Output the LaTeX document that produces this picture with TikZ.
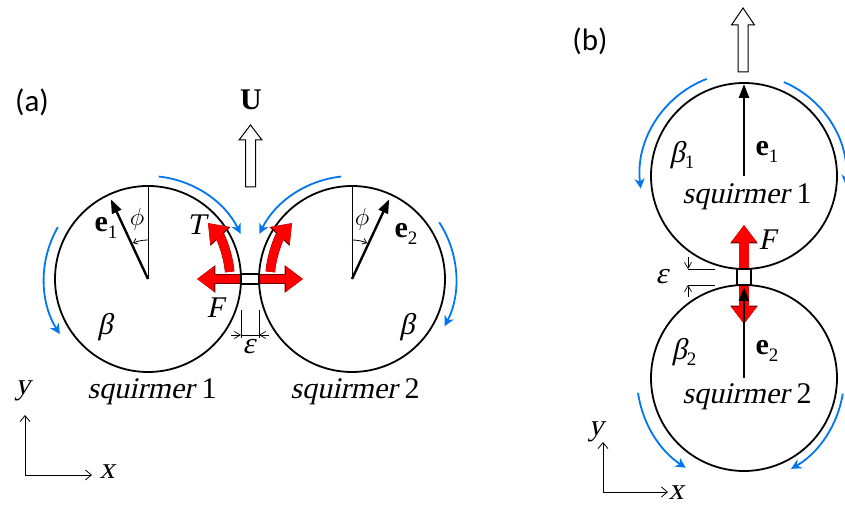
\documentclass[tikz,border=0pt]{standalone}
\usepackage{fontspec}
\setmainfont{Liberation Serif}
\newfontfamily\figfont{Liberation Serif}
\newfontfamily\figit{Liberation Serif}[FakeSlant=0.22]
\newfontfamily\panelfont{Carlito}
\usetikzlibrary{arrows.meta,calc}
\definecolor{flowblue}{RGB}{0,118,240}

% bold unit vector with an upright subscript
\newcommand{\uvec}[1]{\textbf{e}\raisebox{-0.22em}{\figfont\fontsize{19}{19}\selectfont #1}}
\newcommand{\slip}[1]{{\figit β}\raisebox{-0.22em}{\figfont\fontsize{19}{19}\selectfont #1}}

\begin{document}
\begin{tikzpicture}[x=1pt,y=1pt,
  body/.style={line width=1.8pt},
  guide/.style={line width=0.8pt},
  flow/.style={flowblue,line width=1.8pt,-{Stealth[length=10pt,width=10pt,inset=3pt]}},
  force/.style={red,line width=8pt,-{Triangle[length=17pt,width=24pt]}},
  rim/.style={preaction={draw=red!45!black,line width=9.6pt,-{Triangle[length=18.4pt,width=26.4pt]}}},
  orient/.style={line width=2.4pt,-{Triangle[length=14pt,width=10pt]}},
  hollow/.style={line width=1pt,fill=white},
  gapbox/.style={line width=2.2pt,fill=white},
  dim/.style={line width=0.7pt},
  dimtip/.style={line width=0.7pt,-{Straight Barb[length=6pt,width=7pt]}},
  lab/.style={font=\figfont\fontsize{30}{32}\selectfont,inner sep=1pt},
  itlab/.style={font=\figit\fontsize{30}{32}\selectfont,inner sep=1pt}]

  \useasboundingbox (0,0) rectangle (845,526);

  % ---------------- (a) side by side ----------------
  \coordinate (C1) at (148,247);
  \coordinate (C2) at (352,247);

  \node[font=\panelfont\fontsize{31}{36}\selectfont] (pa) at (32,424) {(a)};

  % Squirmers
  \draw[body] (C1) circle (93);
  \draw[body] (C2) circle (93);

  % Reference lines and orientation angle
  \draw[guide] (C1) -- ++(0,93);
  \draw[guide] (C2) -- ++(0,93);
  \draw[guide,-{Straight Barb[length=4pt,width=6pt]}] ($(C1)+(90:39)$) arc[start angle=90,end angle=113,radius=39];
  \draw[guide,-{Straight Barb[length=4pt,width=6pt]}] ($(C2)+(90:39)$) arc[start angle=90,end angle=67,radius=39];

  % Orientation vectors
  \draw[orient] (C1) -- ++(115:88);
  \draw[orient] (C2) -- ++(65:88);

  % Surface flow
  \draw[flow] ($(C1)+(150:104)$) arc[start angle=150,end angle=212,radius=104];
  \draw[flow] ($(C1)+(84:103)$) arc[start angle=84,end angle=26,radius=103];
  \draw[flow] ($(C2)+(96:103)$) arc[start angle=96,end angle=154,radius=103];
  \draw[flow] ($(C2)+(33:104)$) arc[start angle=33,end angle=-27,radius=104];

  % Contact forces and torques
  \draw[force,rim] (242,247) -- (197,247);
  \draw[force,rim] (258,247) -- (303,247);
  \draw[force,rim,line width=9pt] ($(C1)+(5:82)$) arc[start angle=5,end angle=43,radius=82];
  \draw[force,rim,line width=9pt] ($(C2)+(175:82)$) arc[start angle=175,end angle=137,radius=82];
  \draw[gapbox] (241,242) rectangle (259,252);

  % Gap width
  \draw[dim] (241,216) -- (241,188);
  \draw[dim] (259,216) -- (259,188);
  \draw[dim] (241,191) -- (259,191);
  \draw[dimtip] (231,191) -- (241,191);
  \draw[dimtip] (269,191) -- (259,191);

  % Swimming velocity
  \draw[hollow] (245.5,339) -- ++(0,47) -- ++(-6.5,0) -- ++(11.5,15)
    -- ++(11.5,-15) -- ++(-6.5,0) -- ++(0,-47) -- cycle;

  % Labels
  \node[lab,font=\figfont\fontsize{30}{32}\selectfont\bfseries] (Ua) at (251,426) {U};
  \node[lab] (e1a) at (106,298) {\uvec{1}};
  \node[lab] (e2a) at (406,292) {\uvec{2}};
  \node[lab,font=\fontsize{35}{36}\selectfont] (phia) at (137,307) {$\phi$};
  \node[lab,font=\fontsize{35}{36}\selectfont] (phib) at (362,307) {$\phi$};
  \node[itlab] (Ta) at (196,301) {T};
  \node[itlab] (Fa) at (215,218) {F};
  \node[itlab] (epsa) at (249,179) {ε};
  \node[itlab] (ba) at (105,199) {β};
  \node[itlab] (bb) at (407,199) {β};
  \node[itlab] (sq1a) at (152,134) {squirmer\ {\figfont 1}};
  \node[itlab] (sq2a) at (355,134) {squirmer\ {\figfont 2}};

  % Axes
  \coordinate (Oa) at (25,51);
  \draw[guide,-{Straight Barb[length=6pt,width=10pt]}] (Oa) -- ++(0,60);
  \draw[guide,-{Straight Barb[length=6pt,width=10pt]}] (Oa) -- ++(67,0);
  \node[itlab] (ya) at (23,135) {y};
  \node[itlab] (xa) at (107,54) {x};

  % ---------------- (b) one above the other ----------------
  \coordinate (C3) at (744,350);
  \coordinate (C4) at (744,148);

  \node[font=\panelfont\fontsize{31}{36}\selectfont] (pb) at (590,485) {(b)};

  % Squirmers
  \draw[body] (C3) circle (93);
  \draw[body] (C4) circle (93);

  % Surface flow
  \draw[flow] ($(C3)+(111:104)$) arc[start angle=111,end angle=187,radius=104];
  \draw[flow] ($(C3)+(67:102)$) arc[start angle=67,end angle=-5,radius=102];
  \draw[flow] ($(C4)+(188:107)$) arc[start angle=188,end angle=237,radius=107];
  \draw[flow] ($(C4)+(-9:100)$) arc[start angle=-9,end angle=-60,radius=106];

  % Contact forces
  \draw[force,rim,line width=10pt] (744,256) -- (744,301);
  \draw[force,rim,line width=10pt] (744,242) -- (744,202);
  \draw[gapbox] (737,241) rectangle (751,257);

  % Orientation vectors
  \draw[orient] (C3) -- ++(0,92);
  \draw[orient] (C4) -- (744,239);

  % Gap width
  \draw[dim] (688,257) -- (715,257);
  \draw[dim] (688,241) -- (715,241);
  \draw[dimtip] (688,269) -- (688,257);
  \draw[dimtip] (688,229) -- (688,241);

  % Swimming velocity
  \draw[hollow] (738,454) -- ++(0,47) -- ++(-6.5,0) -- ++(11.5,17)
    -- ++(11.5,-17) -- ++(-6.5,0) -- ++(0,-47) -- cycle;

  % Labels
  \node[lab] (e1b) at (767,374) {\uvec{1}};
  \node[lab] (e2b) at (767,175) {\uvec{2}};
  \node[lab] (b1) at (682,371) {\slip{1}};
  \node[lab] (b2) at (684,174) {\slip{2}};
  \node[itlab] (Fb) at (767,286) {F};
  \node[itlab] (epsb) at (662,249) {ε};
  \node[itlab] (sq1b) at (747,329) {squirmer\ {\figfont 1}};
  \node[itlab] (sq2b) at (747,129) {squirmer\ {\figfont 2}};

  % Axes
  \coordinate (Ob) at (603,34);
  \draw[guide,-{Straight Barb[length=6pt,width=10pt]}] (Ob) -- ++(0,50);
  \draw[guide,-{Straight Barb[length=6pt,width=10pt]}] (Ob) -- ++(65,0);
  \node[itlab] (yb) at (596,94) {y};
  \node[itlab] (xb) at (676,33) {x};

\end{tikzpicture}
\end{document}
